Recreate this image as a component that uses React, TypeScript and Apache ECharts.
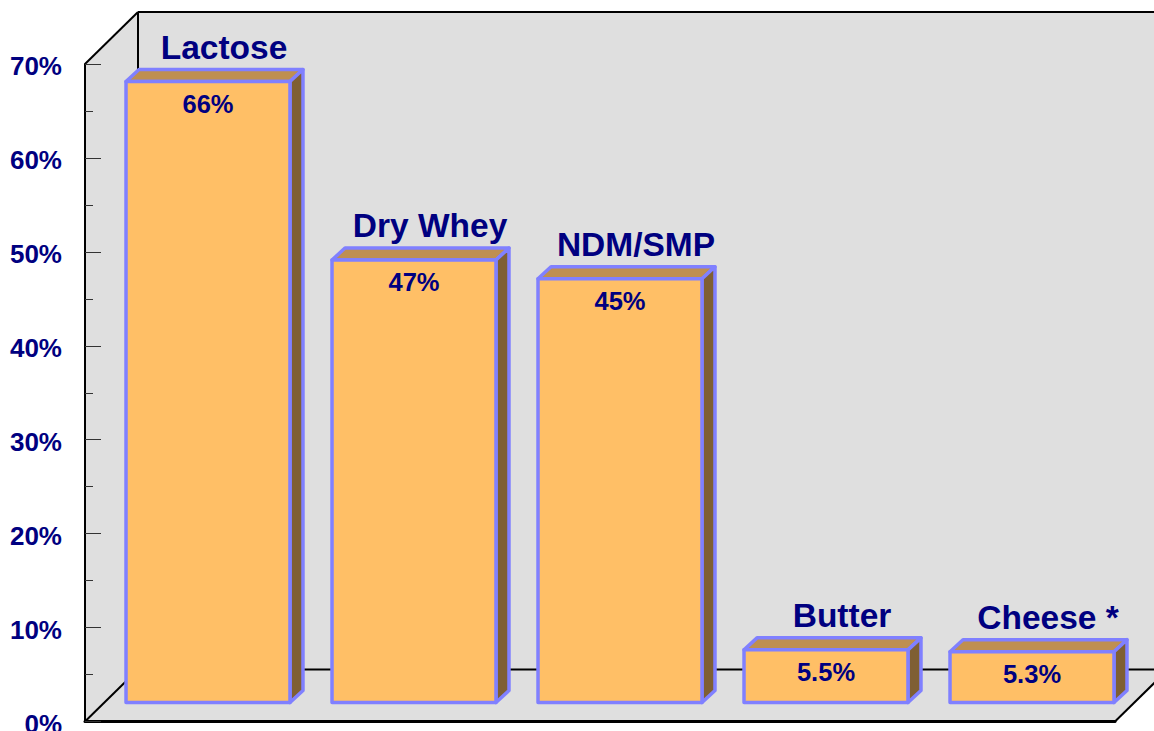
import React, { useEffect, useRef } from "react";
import * as echarts from "echarts";

const categories = ["Lactose", "Dry Whey", "NDM/SMP", "Butter", "Cheese *"];
const values = [66, 47, 45, 5.5, 5.3];
const valueLabels = ["66%", "47%", "45%", "5.5%", "5.3%"];

const FONT = '"Liberation Sans", Arial, sans-serif';
const NAVY = "#000080";
const EDGE = "#8080FF";
const FRONT = "#FFBF66";
const TOP = "#BF8F50";
const SIDE = "#7F5F33";
const WALL = "#DFDFDF";

const L = 85, R = 1115, T = 64, B = 721.5, DX = 53, DY = 52;

export default function App() {
  const ref = useRef<HTMLDivElement>(null);
  useEffect(() => {
    const chart = echarts.init(ref.current!, null, { renderer: "svg" });
    const renderBar = (_: any, api: any) => {
      const i = api.value(0);
      const v = api.value(1);
      const [cx, yTopRaw] = api.coord([i, v]);
      const [, yBase] = api.coord([i, 0]);
      const band = api.size([1, 0])[0];
      const w = band * 0.796;
      const x0 = cx + 20 - w / 2;
      const x1 = x0 + w;
      const top = yTopRaw - 20;
      const bot = yBase - 19;
      const dx = 13;
      const dy = 12;
      const edge = { stroke: EDGE, lineWidth: 3.5, lineJoin: "round" };
      return {
        type: "group",
        children: [
          { type: "polygon", shape: { points: [[x0, top], [x0 + dx, top - dy], [x1 + dx, top - dy], [x1, top]] }, style: { fill: TOP, ...edge } },
          { type: "polygon", shape: { points: [[x1, top], [x1 + dx, top - dy], [x1 + dx, bot - dy], [x1, bot]] }, style: { fill: SIDE, ...edge } },
          { type: "rect", shape: { x: x0, y: top, width: w, height: bot - top }, style: { fill: FRONT, ...edge } },
          { type: "text", x: cx + 36, y: top - 34.5, style: { text: categories[i], fill: NAVY, font: `bold 33.5px ${FONT}`, textAlign: "center", textVerticalAlign: "middle" } },
          { type: "text", x: cx + 20, y: top + 22, style: { text: valueLabels[i], fill: NAVY, font: `bold 25.5px ${FONT}`, textAlign: "center", textVerticalAlign: "middle" } },
        ],
      };
    };
    const lineStyle = { stroke: "#000", lineWidth: 2 };
    chart.setOption({
      animation: false,
      backgroundColor: "#fff",
      graphic: [
        { type: "polygon", z: -1, shape: { points: [[L, T], [L + DX, T - DY], [1200, T - DY], [1200, B - DY], [L + DX, B - DY], [L, B]] }, style: { fill: WALL } },
        { type: "polygon", z: -1, shape: { points: [[L, B], [L + DX, B - DY], [R + DX, B - DY], [R, B]] }, style: { fill: WALL } },
        { type: "line", z: -1, shape: { x1: L, y1: T, x2: L + DX, y2: T - DY }, style: lineStyle },
        { type: "line", z: -1, shape: { x1: L + DX, y1: T - DY, x2: 1200, y2: T - DY }, style: lineStyle },
        { type: "line", z: -1, shape: { x1: L + DX, y1: T - DY, x2: L + DX, y2: B - DY }, style: lineStyle },
        { type: "line", z: -1, shape: { x1: L + DX, y1: B - DY, x2: 1200, y2: B - DY }, style: lineStyle },
        { type: "line", z: -1, shape: { x1: L, y1: B, x2: L + DX, y2: B - DY }, style: lineStyle },
        { type: "line", z: -1, shape: { x1: R, y1: B, x2: R + DX, y2: B - DY }, style: lineStyle },
      ],
      grid: { left: L, right: 1154 - R, top: T, bottom: 731 - B, outerBoundsMode: "none" },
      xAxis: {
        type: "category",
        data: categories,
        axisLine: { lineStyle: { color: "#000", width: 3 } },
        axisTick: { show: false },
        axisLabel: { show: false },
        splitLine: { show: false },
      },
      yAxis: {
        type: "value",
        min: 0,
        max: 70,
        interval: 10,
        axisLine: { show: true, lineStyle: { color: "#000", width: 2 } },
        axisTick: { show: true, inside: true, length: 16, lineStyle: { color: "#333", width: 1 } },
        minorTick: { show: true, splitNumber: 2, length: 8, lineStyle: { color: "#333", width: 1 } },
        splitLine: { show: false },
        axisLabel: {
          formatter: "{value}%",
          margin: 23,
          color: NAVY,
          fontFamily: FONT,
          fontWeight: "bold",
          fontSize: 26,
          verticalAlign: "top",
          lineHeight: 4,
        },
      },
      series: [
        {
          type: "custom",
          renderItem: renderBar,
          clip: false,
          data: values.map((v, i) => [i, v]),
          encode: { x: 0, y: 1 },
        },
      ],
    });
    return () => chart.dispose();
  }, []);
  return <div ref={ref} style={{ position: "fixed", left: 0, top: 0, width: 1154, height: 731 }} />;
}
